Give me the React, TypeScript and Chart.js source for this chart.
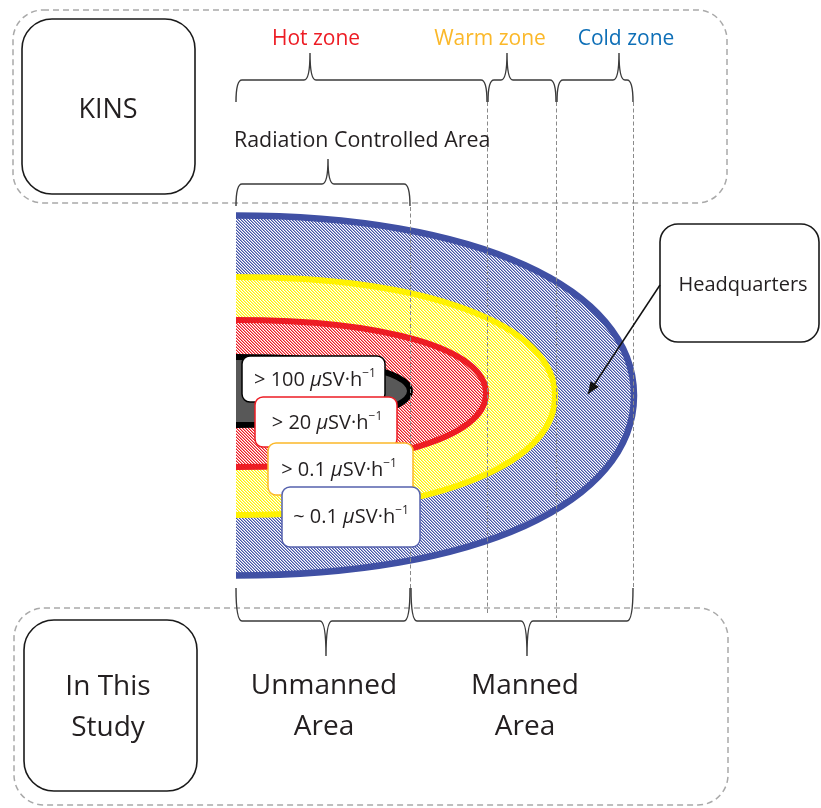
import React, { useEffect, useRef } from 'react';
import { Chart, registerables } from 'chart.js';

Chart.register(...registerables);

// ---------- data (diagram units; x to the right, y downward) ----------
const zoneNames = ['Hot zone', 'Warm zone', 'Cold zone'];
const zoneBounds = [236, 487, 556, 633];
const zoneBraceTips = [310, 507, 619];

const controlledAreaName = 'Radiation Controlled Area';
const controlledAreaBounds = [236, 410];
const controlledAreaTip = 328;

const studyAreaNames = [['Unmanned', 'Area'], ['Manned', 'Area']];
const studyAreaBounds = [236, 410, 633];
const studyBraceTips = [326, 527];

// contours, inner to outer
const doseThresholds = ['> 100', '> 20', '> 0.1', '~ 0.1'];
const doseUnit = ['μ', 'SV·h', '−1'];
const contourOrigin = 236;
const contourReach = [410, 486, 555, 634];
const contourHalfHeight = [34, 73.5, 119, 180];
const contourMid = [391, 393.5, 396, 395.5];

const sourceLabels = ['KINS', ['In This', 'Study']];
const hqLabel = 'Headquarters';

// ---------- styles ----------
const FONT = '"Open Sans", "Noto Sans", sans-serif';
const TEXT = '#231f20';
const zoneColors = ['#ed1c24', '#fbb829', '#0e6fb7'];
const contourStroke = ['#000000', '#ed1c24', '#fff200', '#4050a4'];
const contourHatch = [null, ['#ed1c24', '#f68e92'], ['#fff200', '#fff880'], ['#4353a8', '#a1a9d3']];
const contourSolidFill = ['#585858', null, null, null];
const doseBoxBorder = ['#000000', '#ed1c24', '#fbb829', '#5561ad'];

function makeHatch(colors: string[]) {
  const n = 3;
  const c = document.createElement('canvas');
  c.width = n;
  c.height = n;
  const g = c.getContext('2d')!;
  g.fillStyle = '#ffffff';
  g.fillRect(0, 0, n, n);
  for (let i = 0; i < n; i++) {
    for (let j = 0; j < n; j++) {
      const m = (((i - j) % n) + n) % n;
      if (m === 0) {
        g.fillStyle = colors[0];
        g.fillRect(i, j, 1, 1);
      } else if (m === 1) {
        g.fillStyle = colors[1];
        g.fillRect(i, j, 1, 1);
      }
    }
  }
  return c;
}

function brace(ctx: CanvasRenderingContext2D, x0: number, x1: number, tip: number, yLine: number, yEnd: number, yTip: number) {
  const r = 6;
  ctx.beginPath();
  ctx.moveTo(x0, yEnd);
  ctx.quadraticCurveTo(x0, yLine, x0 + r, yLine);
  ctx.lineTo(tip - r, yLine);
  ctx.quadraticCurveTo(tip, yLine, tip, yTip);
  ctx.quadraticCurveTo(tip, yLine, tip + r, yLine);
  ctx.lineTo(x1 - r, yLine);
  ctx.quadraticCurveTo(x1, yLine, x1, yEnd);
  ctx.stroke();
}

const diagramPlugin = {
  id: 'diagram',
  afterDraw(chart: any) {
    const ctx: CanvasRenderingContext2D = chart.ctx;
    const X = (v: number) => chart.scales.x.getPixelForValue(v);
    const Y = (v: number) => chart.scales.y.getPixelForValue(v);
    ctx.save();

    ctx.fillStyle = '#ffffff';
    ctx.fillRect(0, 0, chart.width, chart.height);

    // dashed frames
    ctx.strokeStyle = '#a9a9a9';
    ctx.lineWidth = 1.5;
    ctx.setLineDash([6, 4]);
    ctx.beginPath();
    ctx.roundRect(X(13), Y(10), X(727) - X(13), Y(203) - Y(10), 30);
    ctx.stroke();
    ctx.beginPath();
    ctx.roundRect(X(14), Y(608), X(728) - X(14), Y(805) - Y(608), 30);
    ctx.stroke();
    ctx.setLineDash([]);

    // solid boxes
    ctx.strokeStyle = '#1a1a1a';
    ctx.lineWidth = 1.6;
    ctx.beginPath();
    ctx.roundRect(X(22), Y(19), X(195) - X(22), Y(194) - Y(19), 30);
    ctx.stroke();
    ctx.beginPath();
    ctx.roundRect(X(24), Y(620), X(197) - X(24), Y(791) - Y(620), 30);
    ctx.stroke();

    // contours (outer to inner)
    ctx.save();
    ctx.beginPath();
    ctx.rect(X(contourOrigin), 0, chart.width, chart.height);
    ctx.clip();
    const k = 0.6;
    for (let i = contourReach.length - 1; i >= 0; i--) {
      const cx = X(contourOrigin);
      const cy = Y(contourMid[i]);
      const a = X(contourReach[i]) - cx;
      const b = Y(contourMid[i] + contourHalfHeight[i]) - cy;
      ctx.beginPath();
      ctx.moveTo(cx - 10, cy - b);
      ctx.lineTo(cx, cy - b);
      ctx.bezierCurveTo(cx + k * a, cy - b, cx + a, cy - k * b, cx + a, cy);
      ctx.bezierCurveTo(cx + a, cy + k * b, cx + k * a, cy + b, cx, cy + b);
      ctx.lineTo(cx - 10, cy + b);
      ctx.closePath();
      const hatch = contourHatch[i];
      if (hatch) {
        ctx.fillStyle = ctx.createPattern(makeHatch(hatch), 'repeat')!;
      } else {
        ctx.fillStyle = contourSolidFill[i]!;
      }
      ctx.fill();
      ctx.strokeStyle = contourStroke[i];
      ctx.lineWidth = i === 3 ? 6.5 : 6;
      ctx.stroke();
    }
    ctx.restore();

    // vertical dashed guides
    ctx.strokeStyle = '#8a8a8a';
    ctx.lineWidth = 1;
    ctx.setLineDash([4, 2.5]);
    const guides: [number, number, number][] = [
      [controlledAreaBounds[1], 207, 590],
      [zoneBounds[1], 102, 615],
      [zoneBounds[2], 102, 618],
      [zoneBounds[3], 102, 588],
    ];
    for (const [gx, y0, y1] of guides) {
      ctx.beginPath();
      ctx.moveTo(X(gx) + 0.5, Y(y0));
      ctx.lineTo(X(gx) + 0.5, Y(y1));
      ctx.stroke();
    }
    ctx.setLineDash([]);

    // braces
    ctx.strokeStyle = '#3a3a3a';
    ctx.lineWidth = 1.4;
    for (let i = 0; i < zoneNames.length; i++) {
      brace(ctx, X(zoneBounds[i]) + (i ? 1 : 0), X(zoneBounds[i + 1]), X(zoneBraceTips[i]), Y(80), Y(102), Y(53));
    }
    brace(ctx, X(controlledAreaBounds[0]), X(controlledAreaBounds[1]), X(controlledAreaTip), Y(184), Y(206), Y(159));
    for (let i = 0; i < studyAreaNames.length; i++) {
      brace(ctx, X(studyAreaBounds[i]) + (i ? 1 : 0), X(studyAreaBounds[i + 1]), X(studyBraceTips[i]), Y(621), Y(588), Y(656));
    }

    // dose boxes
    const boxes = [
      [242, 356, 385, 402],
      [255, 397, 397, 447],
      [268, 443, 413, 495],
      [282, 487, 420, 547],
    ];
    const textCenters = [
      [315, 379],
      [327, 422],
      [339, 469],
      [351, 516],
    ];
    for (let i = 0; i < doseThresholds.length; i++) {
      const [x0, y0, x1, y1] = boxes[i];
      ctx.beginPath();
      ctx.roundRect(X(x0), Y(y0), X(x1) - X(x0), Y(y1) - Y(y0), 8);
      ctx.fillStyle = '#ffffff';
      ctx.fill();
      ctx.strokeStyle = doseBoxBorder[i];
      ctx.lineWidth = 1.5;
      ctx.stroke();

      const parts: [string, string, number][] = [
        [doseThresholds[i] + ' ', `20px ${FONT}`, 0],
        [doseUnit[0], `italic 20px ${FONT}`, 0],
        [doseUnit[1], `20px ${FONT}`, 0],
        [doseUnit[2], `12px ${FONT}`, -9],
      ];
      let total = 0;
      const widths = parts.map(([t, f]) => {
        ctx.font = f;
        const w = ctx.measureText(t).width;
        total += w;
        return w;
      });
      let tx = X(textCenters[i][0]) - total / 2;
      const base = Y(textCenters[i][1]) + 7;
      ctx.fillStyle = TEXT;
      ctx.textAlign = 'left';
      ctx.textBaseline = 'alphabetic';
      parts.forEach(([t, f, dy], j) => {
        ctx.font = f;
        ctx.fillText(t, tx, base + dy);
        tx += widths[j];
      });
    }

    // headquarters
    ctx.strokeStyle = '#1a1a1a';
    ctx.lineWidth = 1.6;
    ctx.beginPath();
    ctx.roundRect(X(660), Y(224), X(819) - X(660), Y(342) - Y(224), 18);
    ctx.fillStyle = '#ffffff';
    ctx.fill();
    ctx.stroke();
    const ax0 = X(660), ay0 = Y(285), ax1 = X(588), ay1 = Y(394);
    ctx.strokeStyle = '#111';
    ctx.lineWidth = 1.5;
    ctx.beginPath();
    ctx.moveTo(ax0, ay0);
    ctx.lineTo(ax1, ay1);
    ctx.stroke();
    const ang = Math.atan2(ay1 - ay0, ax1 - ax0);
    const hl = 12, hw = 5;
    ctx.fillStyle = '#111';
    ctx.beginPath();
    ctx.moveTo(ax1, ay1);
    ctx.lineTo(ax1 - hl * Math.cos(ang) + hw * Math.sin(ang), ay1 - hl * Math.sin(ang) - hw * Math.cos(ang));
    ctx.lineTo(ax1 - hl * Math.cos(ang) - hw * Math.sin(ang), ay1 - hl * Math.sin(ang) + hw * Math.cos(ang));
    ctx.closePath();
    ctx.fill();

    // texts
    ctx.textAlign = 'center';
    ctx.textBaseline = 'middle';
    const zoneTextX = [316, 490, 626];
    ctx.font = `21px ${FONT}`;
    zoneNames.forEach((n, i) => {
      ctx.fillStyle = zoneColors[i];
      ctx.fillText(n, X(zoneTextX[i]), Y(39));
    });
    ctx.fillStyle = TEXT;
    ctx.textAlign = 'left';
    ctx.font = `21.4px ${FONT}`;
    ctx.fillText(controlledAreaName, X(234), Y(141));

    ctx.textAlign = 'center';
    ctx.font = `27px ${FONT}`;
    ctx.fillText(sourceLabels[0] as string, X(108), Y(110));
    ctx.font = `28px ${FONT}`;
    const study = sourceLabels[1] as string[];
    ctx.fillText(study[0], X(108), Y(687));
    ctx.fillText(study[1], X(108), Y(728));
    const studyTextX = [324, 525];
    studyAreaNames.forEach((lines, i) => {
      ctx.fillText(lines[0], X(studyTextX[i]), Y(686));
      ctx.fillText(lines[1], X(studyTextX[i]), Y(727));
    });
    ctx.font = `20px ${FONT}`;
    ctx.fillText(hqLabel, X(743), Y(285));

    ctx.restore();
  },
};

export default function App() {
  const ref = useRef<HTMLCanvasElement>(null);
  useEffect(() => {
    if (!ref.current) return;
    const chart = new Chart(ref.current, {
      type: 'scatter',
      data: { datasets: [] },
      options: {
        animation: false,
        responsive: true,
        maintainAspectRatio: false,
        events: [],
        layout: { padding: 0 },
        plugins: { legend: { display: false }, tooltip: { enabled: false } },
        scales: {
          x: { type: 'linear', min: 0, max: 821, display: false },
          y: { type: 'linear', min: 0, max: 808, reverse: true, display: false },
        },
      },
      plugins: [diagramPlugin],
    });
    return () => chart.destroy();
  }, []);
  return (
    <div style={{ position: 'absolute', left: 0, top: 0, width: 821, height: 808 }}>
      <canvas ref={ref} />
    </div>
  );
}
